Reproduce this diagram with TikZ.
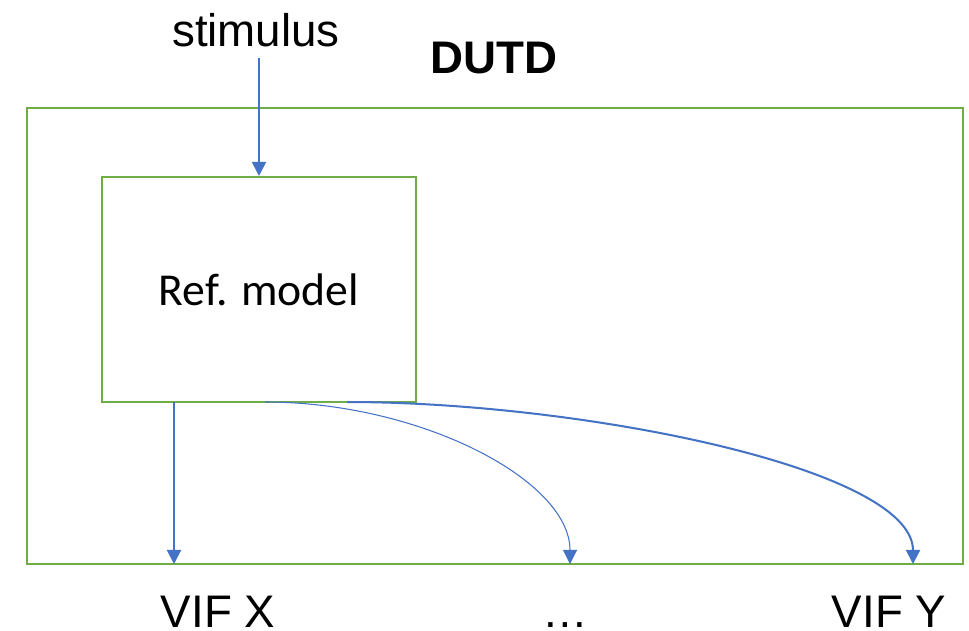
\documentclass[tikz,border=0pt]{standalone}
\usepackage{fontspec}
\setmainfont{Liberation Sans}
\newfontfamily\calibri{Carlito}
\usepackage{tikz}
\usetikzlibrary{arrows.meta}
\usetikzlibrary{calc}
\usepackage{xcolor}
\definecolor{boxgreen}{HTML}{70AD47}
\definecolor{flowblue}{HTML}{4472C4}

\begin{document}
\begin{tikzpicture}[
	font=\fontsize{26}{31}\selectfont,
	box/.style={draw=boxgreen,line width=1.2pt,inner sep=0pt},
	flow/.style={draw=flowblue,line width=1.15pt,-{Triangle[length=8pt,width=8pt]}},
	thinflow/.style={flow,line width=0.6pt}
	]
			
			\useasboundingbox (0,0) rectangle (19.38,12.6);
			
			% Boxes
			\node[box,minimum width=18.72cm,minimum height=9.12cm] (dutd) at (9.90,5.88) {};
			\node[box,minimum width=6.28cm,minimum height=4.5cm,font=\calibri\fontsize{26}{31}\selectfont] (refmodel) at (5.18,6.81) {Ref. model};
			
			% Labels
			\node[anchor=base] (stim) at (5.12,11.68) {stimulus};
			\node[anchor=base,font=\bfseries\fontsize{26}{31}\selectfont] (title) at (9.88,11.14) {DUTD};
			\node[anchor=base] (vifx) at (4.36,0.06) {VIF X};
			\node[anchor=base] (dots) at (11.30,0.06) {\dots};
			\node[anchor=base] (vify) at (17.78,0.06) {VIF Y};
			
			% Arrow ends
			\coordinate (stimtail) at (5.18,11.44);
			\coordinate (outx) at (3.48,4.56);
			\coordinate (outm) at (5.30,4.56);
			\coordinate (outy) at (6.94,4.56);
			\coordinate (inx) at (3.48,1.32);
			\coordinate (inm) at (11.40,1.32);
			\coordinate (iny) at (18.26,1.32);
			
			% Arrows
			\draw[flow] (stimtail) -- (refmodel.north);
			\draw[flow] (outx) -- (inx);
			\draw[thinflow] (outm) .. controls (8.40,4.56) and (11.40,3.00) .. (inm);
			\draw[flow] (outy) .. controls (11.60,4.56) and (18.26,3.24) .. (iny);
			
		\end{tikzpicture}
\end{document}
